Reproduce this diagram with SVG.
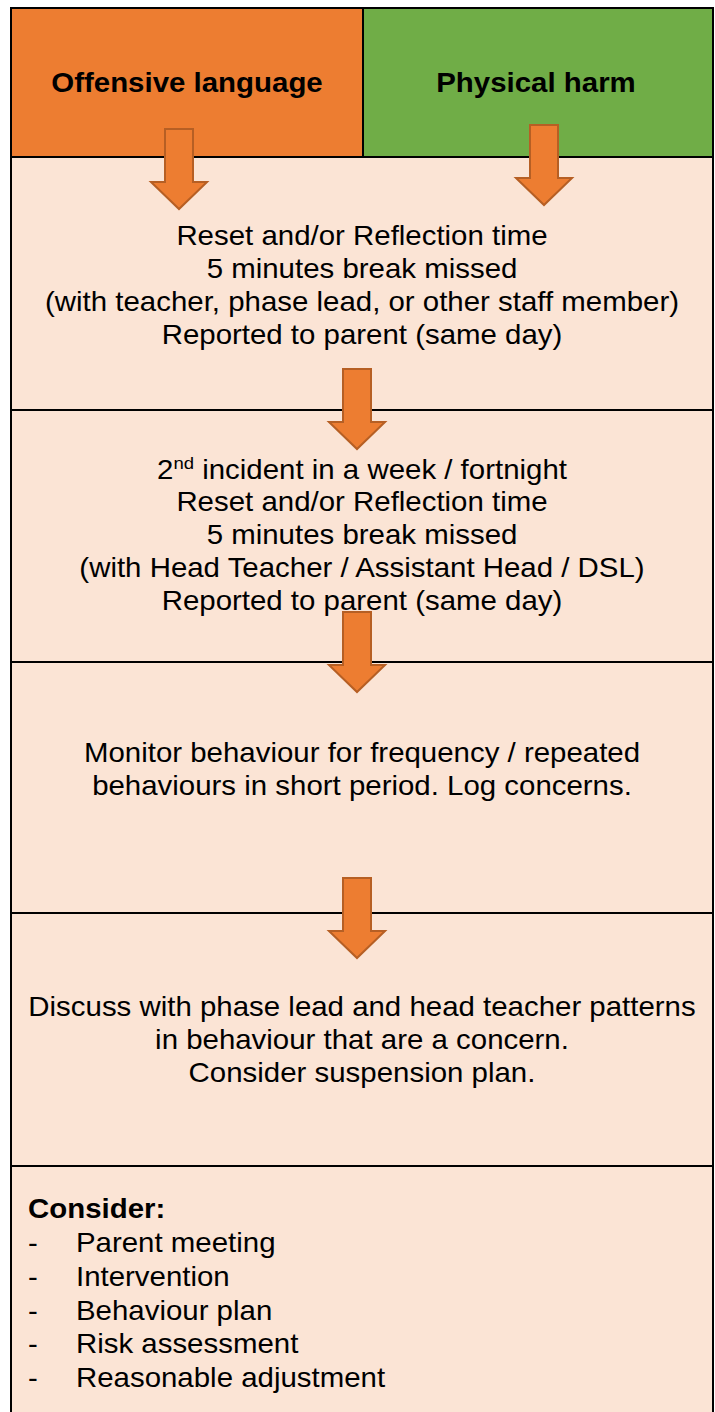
<svg xmlns="http://www.w3.org/2000/svg" width="715" height="1412" viewBox="0 0 715 1412">
  <defs>
    <style>
      .cell { fill: #FBE4D5; stroke: #000; stroke-width: 2; }
      .hdr { stroke: #000; stroke-width: 2; }
      .t { font-family: "Liberation Sans", Arial, sans-serif; font-size: 27px; fill: #000; }
      .c { text-anchor: middle; }
      .b { font-weight: bold; }
      .arrow { fill: #ED7D31; stroke: #B65F24; stroke-width: 2; stroke-linejoin: miter; }
    </style>
    <!-- block arrow pointing down, origin at the top centre of the shaft -->
    <path id="down" d="M-14,0 H14 V53 H28 L0,80 L-28,53 H-14 Z"/>
  </defs>

  <rect width="715" height="1412" fill="#fff"/>

  <!-- header: offence type -->
  <g id="offensive-language">
    <rect class="hdr" x="11" y="8" width="352" height="149" fill="#ED7D31"/>
    <g transform="translate(187 0) scale(1.09 1)">
      <text class="t c b" x="0" y="92">Offensive language</text>
    </g>
  </g>
  <g id="physical-harm">
    <rect class="hdr" x="363" y="8" width="350" height="149" fill="#70AD47"/>
    <g transform="translate(536 0) scale(1.09 1)">
      <text class="t c b" x="0" y="92">Physical harm</text>
    </g>
  </g>

  <!-- stage 1 -->
  <g id="stage-1">
    <rect class="cell" x="11" y="157" width="702" height="253"/>
    <g class="t c" transform="translate(362 0) scale(1.09 1)">
      <text x="0" y="245">Reset and/or Reflection time</text>
      <text x="0" y="278">5 minutes break missed</text>
      <text x="0" y="311">(with teacher, phase lead, or other staff member)</text>
      <text x="0" y="344">Reported to parent (same day)</text>
    </g>
  </g>

  <!-- stage 2 -->
  <g id="stage-2">
    <rect class="cell" x="11" y="410" width="702" height="252"/>
    <g class="t c" transform="translate(362 0) scale(1.09 1)">
      <text x="0" y="479">2<tspan font-size="17" dy="-10">nd</tspan><tspan dy="10"> incident in a week / fortnight</tspan></text>
      <text x="0" y="511">Reset and/or Reflection time</text>
      <text x="0" y="544">5 minutes break missed</text>
      <text x="0" y="577">(with Head Teacher / Assistant Head / DSL)</text>
      <text x="0" y="610">Reported to parent (same day)</text>
    </g>
  </g>

  <!-- stage 3 -->
  <g id="stage-3">
    <rect class="cell" x="11" y="662" width="702" height="251"/>
    <g class="t c" transform="translate(362 0) scale(1.09 1)">
      <text x="0" y="762">Monitor behaviour for frequency / repeated</text>
      <text x="0" y="795">behaviours in short period. Log concerns.</text>
    </g>
  </g>

  <!-- stage 4 -->
  <g id="stage-4">
    <rect class="cell" x="11" y="913" width="702" height="253"/>
    <g class="t c" transform="translate(362 0) scale(1.09 1)">
      <text x="0" y="1016">Discuss with phase lead and head teacher patterns</text>
      <text x="0" y="1049">in behaviour that are a concern.</text>
      <text x="0" y="1082">Consider suspension plan.</text>
    </g>
  </g>

  <!-- stage 5 -->
  <g id="stage-5">
    <rect class="cell" x="11" y="1166" width="702" height="260"/>
    <g class="t" transform="translate(28 0) scale(1.09 1)">
      <text class="b" x="0" y="1218">Consider:</text>
      <text x="0" y="1252">-</text><text x="44" y="1252">Parent meeting</text>
      <text x="0" y="1286">-</text><text x="44" y="1286">Intervention</text>
      <text x="0" y="1320">-</text><text x="44" y="1320">Behaviour plan</text>
      <text x="0" y="1353">-</text><text x="44" y="1353">Risk assessment</text>
      <text x="0" y="1387">-</text><text x="44" y="1387">Reasonable adjustment</text>
    </g>
  </g>

  <!-- connectors -->
  <g id="connectors" class="arrow">
    <use href="#down" x="179" y="129"/>
    <use href="#down" x="544" y="125"/>
    <use href="#down" x="357" y="369"/>
    <use href="#down" x="357" y="612"/>
    <use href="#down" x="357" y="878"/>
  </g>
</svg>
